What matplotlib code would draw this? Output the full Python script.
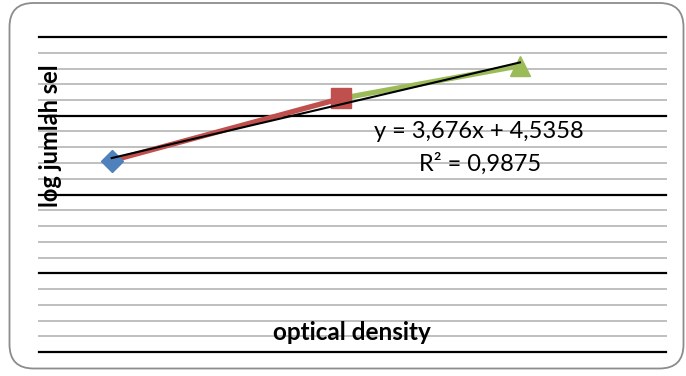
import numpy as np
import matplotlib
matplotlib.use("Agg")
from matplotlib import pyplot as plt
from matplotlib.patches import FancyBboxPatch

# data (optical density vs log jumlah sel)
od = [0.116, 0.482, 0.767]
log_sel = [4.86, 6.44, 7.27]
colors = ["#4F81BD", "#C0504D", "#9BBB59"]
markers = ["D", "s", "^"]
eq_text = "y = 3,676x + 4,5358"
r2_text = "R\u00b2 = 0,9875"

plt.rcParams['font.family'] = ['Lato', 'DejaVu Sans']

fig = plt.figure(figsize=(6.86, 3.76), dpi=100)
fig.patch.set_facecolor("white")

# rounded chart border
W, H = 686.0, 376.0
border = FancyBboxPatch((9.5 / W, 7.5 / H), (683.5 - 9.5) / W, (373 - 7.5) / H,
                        boxstyle="round,pad=0,rounding_size=0.035",
                        transform=fig.transFigure, facecolor="none",
                        edgecolor="#8C8C8C", linewidth=1.3, mutation_aspect=W / H)
fig.patches.append(border)

ax = fig.add_axes([39 / W, 1 - 352 / H, (666 - 39) / W, (352 - 37) / H])
ax.set_xlim(0, 1)
ax.set_ylim(0, 8)

#gridlines: majors every 2, minors every 0.4
for v in np.arange(0, 8.01, 0.4):
    if abs(v / 2 - round(v / 2)) < 1e-6:
        ax.axhline(v, color="black", lw=1.6, clip_on=False, zorder=1)
    else:
        ax.axhline(v, color="#BFBFBF", lw=1.4, clip_on=False, zorder=1)

for s in ax.spines.values():
    s.set_visible(False)
ax.set_xticks([])
ax.set_yticks([])

# segments coloured like the following point
for i in range(1, len(od)):
    ax.plot(od[i - 1:i + 1], log_sel[i - 1:i + 1], color=colors[i], lw=3.8,
            solid_capstyle="butt", zorder=2)

sizes = [11, 14, 14]
for i in range(len(od)):
    ax.plot(od[i], log_sel[i], marker=markers[i], color=colors[i], ms=sizes[i],
            mec=colors[i], ls="none", zorder=3, clip_on=False)

# linear trendline
k, b = np.polyfit(od, log_sel, 1)
xs = np.array([od[0], od[-1]])
ax.plot(xs, k * xs + b, color="black", lw=1.5, zorder=4)

fig.text(479 / W, 1 - 132 / H, eq_text, ha="center", va="center", fontsize=17)
fig.text(480 / W, 1 - 164 / H, r2_text, ha="center", va="center", fontsize=17)

fig.text(50 / W, 1 - 136 / H, "log jumlah sel", rotation=90, ha="center", va="center",
         fontsize=17, fontweight="bold")
fig.text(352 / W, 1 - 333 / H, "optical density", ha="center", va="center",
         fontsize=17.5, fontweight="bold")

fig.savefig("out.png", dpi=100)
